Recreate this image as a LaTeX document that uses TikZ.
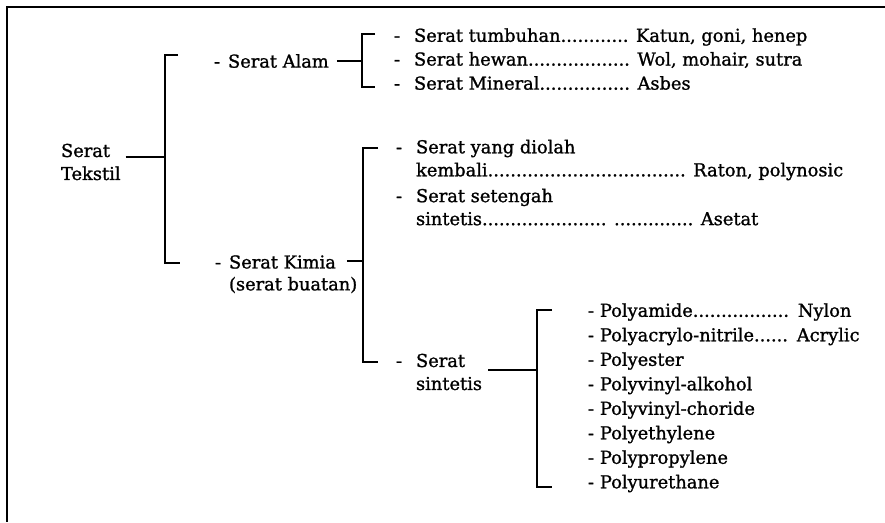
\documentclass[tikz,border=0pt]{standalone}
\usepackage{fontspec}
\setmainfont{DejaVu Serif}[FakeBold=1.2]
\usepackage{tikz}

\begin{document}
\begin{tikzpicture}[x=1pt, y=-1pt, font=\fontsize{17.8}{23}\selectfont, node distance={24.5pt}, line width=2.1pt,
    txt/.style = {inner sep=0pt, anchor=west, align=left},
    leaf/.style = {inner sep=0pt, text width=280pt, align=left},
    frame/.style = {line width=2.4pt}]
\useasboundingbox (0,0) rectangle (885,522);
\draw[frame] (885,7) -- (7,7) -- (7,522);
% bracket corners
\coordinate (b0t) at (165,55);  \coordinate (b0m) at (165,157); \coordinate (b0b) at (165,263);
\coordinate (b1t) at (362,34);  \coordinate (b1m) at (362,61);  \coordinate (b1b) at (362,87);
\coordinate (b2t) at (363,148); \coordinate (b2m) at (363,261); \coordinate (b2b) at (363,362);
\coordinate (b3t) at (537,310); \coordinate (b3m) at (537,370); \coordinate (b3b) at (537,487);
% texts
\node[txt] (tekstil) at (60,162) {Serat\\Tekstil};
\node[txt] (alam) at (213,61) {\makebox[14pt][l]{-}Serat Alam};
\node[txt] (kimia) at (214,262) {\makebox[14pt][l]{-}Serat Kimia};
\node[txt] (buatan) at (228,285) {(serat buatan)};
\node[txt] (tumbuhan) at (393,37) {\makebox[20pt][l]{-}Serat tumbuhan............ Katun, goni, henep};
\node[txt] (hewan) at (393,60) {\makebox[20pt][l]{-}Serat hewan.................. Wol, mohair, sutra};
\node[txt] (mineral) at (393,83) {\makebox[20pt][l]{-}Serat Mineral................ Asbes};
\node[txt] (diolah) at (395,160) {\makebox[20pt][l]{-}Serat yang diolah\\\hspace*{20pt}kembali................................... Raton, polynosic};
\node[txt] (setengah) at (395,207) {\makebox[20pt][l]{-}Serat setengah\\\hspace*{20pt}sintetis...................... .............. Asetat};
\node[txt] (sintetis) at (395,372) {\makebox[20pt][l]{-}Serat\\\hspace*{20pt}sintetis};
\node[leaf] (p1) at (728,312) {- Polyamide................. Nylon};
\node[leaf] (p2) [below of=p1] {- Polyacrylo-nitrile...... Acrylic};
\node[leaf] (p3) [below of=p2] {- Polyester};
\node[leaf] (p4) [below of=p3] {- Polyvinyl-alkohol};
\node[leaf] (p5) [below of=p4] {- Polyvinyl-choride};
\node[leaf] (p6) [below of=p5] {- Polyethylene};
\node[leaf] (p7) [below of=p6] {- Polypropylene};
\node[leaf] (p8) [below of=p7] {- Polyurethane};
% brackets and connectors
\draw ([xshift=13pt]b0t) -- (b0t) -- (b0b) -- ([xshift=15pt]b0b);
\draw ([xshift=13pt]b1t) -- (b1t) -- (b1b) -- ([xshift=13pt]b1b);
\draw ([xshift=15pt]b2t) -- (b2t) -- (b2b) -- ([xshift=15pt]b2b);
\draw ([xshift=15pt]b3t) -- (b3t) -- (b3b) -- ([xshift=15pt]b3b);
\draw[shorten <=4pt] (tekstil.east |- b0m) -- (b0m);
\draw[shorten <=7pt] (alam.east |- b1m) -- (b1m);
\draw[shorten <=10pt] (kimia.east |- b2m) -- (b2m);
\draw[shorten <=5pt] (sintetis.east |- b3m) -- (b3m);
\end{tikzpicture}
\end{document}
